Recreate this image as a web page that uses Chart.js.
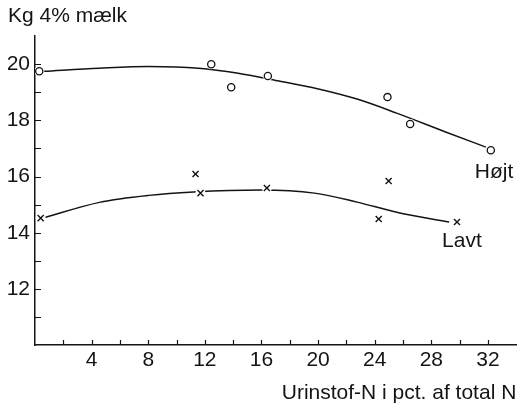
<!DOCTYPE html>
<html>
<head>
<meta charset="utf-8">
<script src="https://cdn.jsdelivr.net/npm/chart.js@4.4.1/dist/chart.umd.min.js"></script>
<style>
  html, body { margin: 0; padding: 0; background: #fff; }
  #wrap { width: 522px; height: 407px; }
</style>
</head>
<body>
<div id="wrap"><canvas id="c"></canvas></div>
<script>
const hojtX = [0.3, 12.45, 13.86, 16.45, 24.9, 26.5, 32.2];
const hojtY = [19.75, 20.0, 19.18, 19.58, 18.83, 17.87, 16.94];
const lavtX = [0.4, 11.34, 11.69, 16.38, 24.98, 24.28, 29.81];
const lavtY = [14.52, 16.09, 15.41, 15.59, 15.84, 14.49, 14.38];

// Fitted curves
const hojtCurveX = [0.63, 4.55, 8.05, 11.55, 14.35, 17.15, 19.95, 22.75, 25.55, 29.05, 31.85];
const hojtCurveY = [19.75, 19.86, 19.92, 19.86, 19.68, 19.41, 19.13, 18.76, 18.26, 17.58, 17.05];
const lavtCurveX = [0.56, 4.55, 8.05, 11.2, 15.95, 19.74, 22.75, 25.55, 29.26];
const lavtCurveY = [14.52, 15.08, 15.33, 15.45, 15.52, 15.41, 15.09, 14.73, 14.38];

// Curve names, placed in data units next to the line ends
const seriesNames = ['Højt', 'Lavt'];
const nameX = [32.43, 30.16];
const nameY = [15.94, 13.49];

const yTitle = 'Kg 4% mælk';
const xTitle = 'Urinstof-N i pct. af total N';

const ink = '#141414';
const FONT = "'Liberation Sans', Arial, Helvetica, sans-serif";
const SIZE = 21;

const pts = (xs, ys) => xs.map((x, i) => ({ x, y: ys[i] }));

// short tick marks pointing into the plot, plus the curve names
const innerTicks = {
  id: 'innerTicks',
  afterDraw(chart) {
    const { ctx, chartArea: a, scales: { x, y } } = chart;
    ctx.save();
    ctx.strokeStyle = ink;
    ctx.lineWidth = 1.2;
    ctx.beginPath();
    x.ticks.forEach(t => {
      if (t.value <= 0 || t.value > 32) return;
      const px = Math.round(x.getPixelForValue(t.value)) + 0.5;
      ctx.moveTo(px, a.bottom);
      ctx.lineTo(px, a.bottom - 5);
    });
    y.ticks.forEach(t => {
      if (t.value <= 10 || t.value >= 21) return;
      const py = Math.round(y.getPixelForValue(t.value)) + 0.5;
      ctx.moveTo(a.left, py);
      ctx.lineTo(a.left + 6, py);
    });
    ctx.stroke();

    ctx.fillStyle = ink;
    ctx.font = SIZE + 'px ' + FONT;
    ctx.textAlign = 'center';
    ctx.textBaseline = 'alphabetic';
    seriesNames.forEach((n, i) => {
      ctx.fillText(n, x.getPixelForValue(nameX[i]), y.getPixelForValue(nameY[i]));
    });
    ctx.restore();
  }
};

const curveStyle = {
  type: 'line',
  borderColor: ink,
  borderWidth: 1.5,
  pointRadius: 0,
  fill: false,
  tension: 0.4,
  cubicInterpolationMode: 'monotone',
  order: 3
};

new Chart(document.getElementById('c'), {
  type: 'scatter',
  data: {
    datasets: [
      { ...curveStyle, label: 'Højt kurve', data: pts(hojtCurveX, hojtCurveY) },
      { ...curveStyle, label: 'Lavt kurve', data: pts(lavtCurveX, lavtCurveY) },
      // white halos that open small gaps in the curves round each mark
      { label: 'h1', data: pts(hojtX, hojtY), pointStyle: 'circle', pointRadius: 5,
        backgroundColor: '#fff', borderColor: '#fff', borderWidth: 0, order: 2 },
      { label: 'h2', data: pts(lavtX, lavtY), pointStyle: 'circle', pointRadius: 5,
        backgroundColor: '#fff', borderColor: '#fff', borderWidth: 0, order: 2 },
      { label: 'Højt', data: pts(hojtX, hojtY), pointStyle: 'circle', pointRadius: 3.6,
        backgroundColor: '#fff', borderColor: ink, borderWidth: 1.3, order: 1 },
      { label: 'Lavt', data: pts(lavtX, lavtY), pointStyle: 'crossRot', pointRadius: 4.3,
        borderColor: ink, borderWidth: 1.4, order: 1 }
    ]
  },
  options: {
    responsive: true,
    maintainAspectRatio: false,
    animation: false,
    events: [],
    layout: { padding: { left: 8, right: 1, top: 0, bottom: 0 } },
    plugins: {
      legend: { display: false },
      tooltip: { enabled: false },
      title: {
        display: true,
        text: yTitle,
        align: 'start',
        color: ink,
        font: { family: FONT, size: SIZE, weight: 'normal', lineHeight: 1.2 },
        padding: { top: 4, bottom: 7 }
      }
    },
    scales: {
      x: {
        type: 'linear',
        min: 0,
        max: 34,
        afterFit: s => { s.height = 62; },
        border: { display: true, color: ink, width: 1.5 },
        grid: { drawOnChartArea: false, drawTicks: false },
        ticks: {
          stepSize: 2,
          autoSkip: false,
          maxRotation: 0,
          padding: 3,
          color: ink,
          font: { family: FONT, size: SIZE },
          callback: v => (v % 4 === 0 && v > 0 && v <= 32) ? String(v) : ''
        },
        title: {
          display: true,
          text: xTitle,
          align: 'end',
          color: ink,
          font: { family: FONT, size: SIZE },
          padding: { top: 0, bottom: 1 }
        }
      },
      y: {
        type: 'linear',
        min: 10,
        max: 21,
        afterFit: s => { s.width = 27; },
        border: { display: true, color: ink, width: 1.5 },
        grid: { drawOnChartArea: false, drawTicks: false },
        ticks: {
          stepSize: 1,
          autoSkip: false,
          padding: 5,
          color: ink,
          font: { family: FONT, size: SIZE },
          callback: v => (v % 2 === 0 && v >= 12 && v <= 20) ? String(v) : ''
        }
      }
    }
  },
  plugins: [innerTicks]
});
</script>
</body>
</html>
